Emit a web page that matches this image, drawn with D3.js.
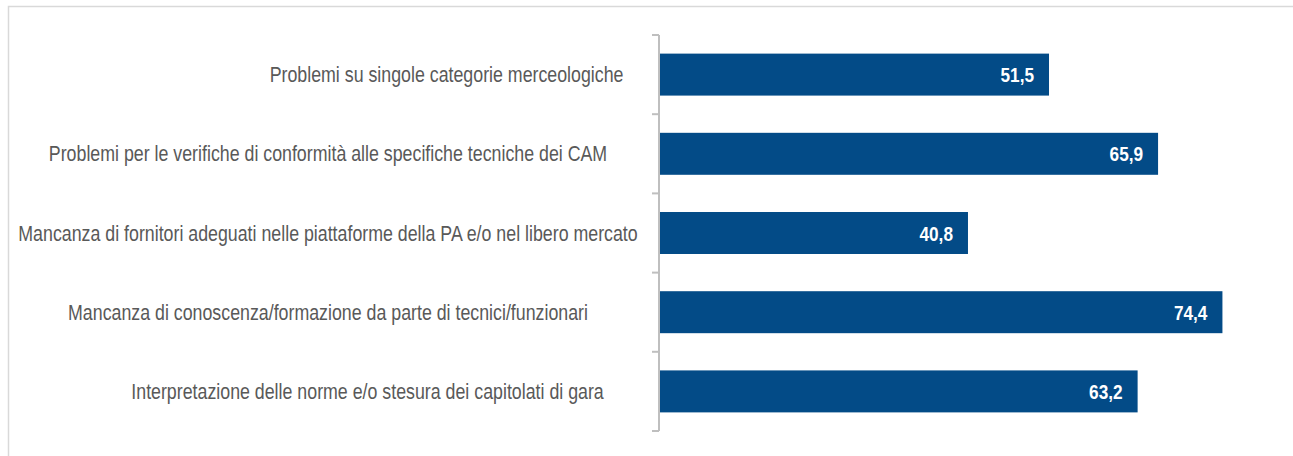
<!DOCTYPE html>
<html>
<head>
<meta charset="utf-8">
<script src="https://cdn.jsdelivr.net/npm/d3@7"></script>
<style>
  body { margin: 0; background: #fff; }
  svg { display: block; font-family: 'Liberation Sans', Arial, sans-serif; }
  .cat-label { fill: #595959; font-size: 21.7px; white-space: pre; }
  .value { fill: #fff; font-size: 21px; font-weight: bold; }
</style>
</head>
<body>
<div id="chart"></div>
<script>
// DATA ------------------------
// (leading spaces as in the source labels)
const categories = [
  '\u00a0'.repeat(48) + 'Problemi su singole categorie merceologiche',
  'Problemi per le verifiche di conformità alle specifiche tecniche dei CAM',
  'Mancanza di fornitori adeguati nelle piattaforme della PA e/o nel libero mercato',
  'Mancanza di conoscenza/formazione da parte di tecnici/funzionari',
  '\u00a0'.repeat(16) + 'Interpretazione delle norme e/o stesura dei capitolati di gara',
];
const values = [51.5, 65.9, 40.8, 74.4, 63.2];

const w = 1293;
const h = 456;
const margin = { top: 35, left: 659 };
const graphHeight = 431 - margin.top;
const narrow = 0.82; // Arial Narrow look from a condensed Liberation Sans
const fmt = (v) => d3.format('.1f')(v).replace('.', ',');

const data = categories.map((c, i) => ({ cat: c, value: values[i] }));

const svg = d3
  .select('#chart')
  .append('svg')
  .attr('width', w)
  .attr('height', h);

// outer frame
svg
  .append('rect')
  .attr('x', 8.5)
  .attr('y', 6.5)
  .attr('width', w + 20)
  .attr('height', h + 20)
  .attr('fill', 'none')
  .attr('stroke', '#d9d9d9')
  .attr('stroke-width', 1.5);

const graph = svg
  .append('g')
  .attr('transform', `translate(${margin.left}, ${margin.top})`);

// SCALES ----------------------
const xScale = d3.scaleLinear().domain([0, 80]).range([0, 80 * 7.573]);
const yScale = d3
  .scaleBand()
  .domain(data.map((d) => d.cat))
  .range([0, graphHeight])
  .paddingInner(0.47)
  .paddingOuter(0.235);

const midY = (d) => yScale(d.cat) + yScale.bandwidth() / 2;

// BARS ------------------------
graph
  .selectAll('rect.bar')
  .data(data)
  .enter()
  .append('rect')
  .attr('class', 'bar')
  .attr('x', xScale(0))
  .attr('y', (d) => yScale(d.cat))
  .attr('width', (d) => xScale(d.value) - xScale(0))
  .attr('height', yScale.bandwidth())
  .attr('fill', '#034b87');

graph
  .selectAll('g.value')
  .data(data)
  .enter()
  .append('g')
  .attr('transform', (d) => `translate(${xScale(d.value) - 15}, ${midY(d)}) scale(${narrow}, 1)`)
  .append('text')
  .attr('class', 'value')
  .attr('dy', '0.36em')
  .attr('text-anchor', 'end')
  .text((d) => fmt(d.value));

// AXIS ------------------------
const axisColor = '#bfbfbf';
graph
  .append('line')
  .attr('x1', 0)
  .attr('x2', 0)
  .attr('y1', 0)
  .attr('y2', graphHeight)
  .attr('stroke', axisColor)
  .attr('stroke-width', 2);

const bounds = d3.range(categories.length + 1).map((i) => i * yScale.step());
graph
  .selectAll('line.tick')
  .data(bounds)
  .enter()
  .append('line')
  .attr('class', 'tick')
  .attr('x1', -7)
  .attr('x2', 0)
  .attr('y1', (d) => d)
  .attr('y2', (d) => d)
  .attr('stroke', axisColor)
  .attr('stroke-width', 2);

// category labels, centred in the label area
const labelCenter = 328 - margin.left;
graph
  .selectAll('g.cat')
  .data(data)
  .enter()
  .append('g')
  .attr('transform', (d) => `translate(${labelCenter}, ${midY(d)}) scale(${narrow}, 1)`)
  .append('text')
  .attr('class', 'cat-label')
  .attr('dy', '0.35em')
  .attr('text-anchor', 'middle')
  .text((d) => d.cat);
</script>
</body>
</html>
